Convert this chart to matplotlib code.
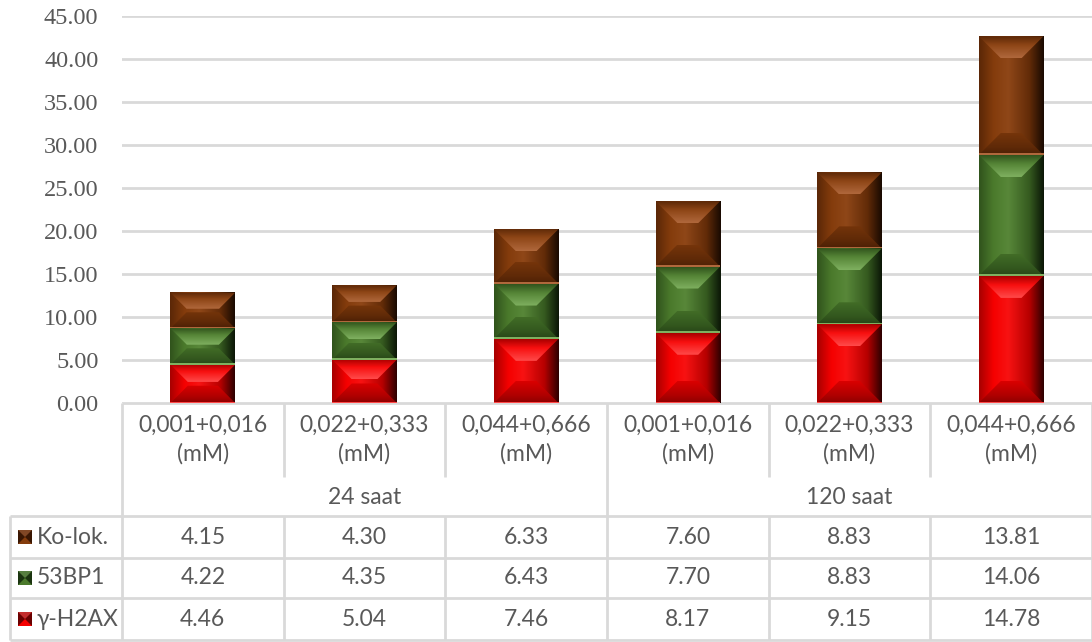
import numpy as np
import matplotlib.pyplot as plt
from matplotlib.patches import Polygon, Rectangle
from matplotlib.colors import to_rgb

plt.rcParams["font.family"] = "serif"
plt.rcParams["font.serif"] = ["Liberation Serif", "DejaVu Serif"]

# donnees
categories = ["0,001+0,016\n(mM)", "0,022+0,333\n(mM)", "0,044+0,666\n(mM)",
              "0,001+0,016\n(mM)", "0,022+0,333\n(mM)", "0,044+0,666\n(mM)"]
groupes = ["24 saat", "120 saat"]
h2ax = [4.46, 5.04, 7.46, 8.17, 9.15, 14.78]
bp53 = [4.22, 4.35, 6.43, 7.70, 8.83, 14.06]
kolok = [4.15, 4.30, 6.33, 7.60, 8.83, 13.81]
yticks = [0, 5, 10, 15, 20, 25, 30, 35, 40, 45]

series = [("γ-H2AX", h2ax, "#f50000", "#6a0000", "#ff4a4a"),
          ("53BP1", bp53, "#4b7a2c", "#1b3410", "#7fb060"),
          ("Ko-lok.", kolok, "#843c0c", "#3a1703", "#b0683c")]

W, H = 1092, 642
GRIS = "#595959"
LIGNE = "#d9d9d9"
TABLE_FONT = ["Lato", "Open Sans", "DejaVu Sans"]

fig = plt.figure(figsize=(W / 100, H / 100), dpi=100)
ax_l, ax_r, ax_t, ax_b = 122, 1092, 16, 403
ax = fig.add_axes([ax_l / W, 1 - ax_b / H, (ax_r - ax_l) / W, (ax_b - ax_t) / H])
XLIM = (-0.5, len(categories) - 0.5)
YLIM = (0, 45)
dx_px = (XLIM[1] - XLIM[0]) / (ax_r - ax_l)   # unite x par pixel
dy_px = (YLIM[1] - YLIM[0]) / (ax_b - ax_t)   # unite y par pixel


def mix(c1, c2, t):
    a, b = np.array(to_rgb(c1)), np.array(to_rgb(c2))
    return tuple(a * (1 - t) + b * t)


def degrade(ax, pos, cols, extent, vertical=False, clip=None):
    cols = np.array([to_rgb(c) for c in cols])
    t = np.linspace(0, 1, 64)
    g = np.stack([np.interp(t, pos, cols[:, k]) for k in range(3)], axis=-1)
    img = g[:, None, :] if vertical else g[None, :, :]
    im = ax.imshow(img, extent=extent, aspect="auto", interpolation="bilinear",
                   origin="lower", zorder=3)
    if clip is not None:
        im.set_clip_path(clip)


def biseau(ax, p, base, dark, light):
    """effet 'biseau' facon Excel sur un rectangle de barre"""
    x0, y0 = p.get_x(), p.get_y()
    x1, y1 = x0 + p.get_width(), y0 + p.get_height()
    w_px = p.get_width() / dx_px
    h_px = p.get_height() / dy_px
    # degrade horizontal (facettes laterales + centre)
    degrade(ax, [0, 0.22, 0.45, 0.78, 1],
            [mix(base, dark, 0.55), base, mix(base, light, 0.25), mix(base, dark, 0.45), mix(dark, "black", 0.55)],
            [x0, x1, y0, y1])
    d = min(22, h_px * 0.45, w_px / 2 - 6)
    ddx, ddy = d * dx_px, d * dy_px
    # facette haute
    haut = Polygon([(x0, y1), (x1, y1), (x1 - ddx, y1 - ddy), (x0 + ddx, y1 - ddy)],
                   closed=True, transform=ax.transData)
    degrade(ax, [0, 0.6, 1], [light, mix(base, light, 0.2), mix(base, dark, 0.55)],
            [x0, x1, y1 - ddy, y1], vertical=True, clip=haut)
    # facette basse
    bas_p = Polygon([(x0, y0), (x1, y0), (x1 - ddx, y0 + ddy), (x0 + ddx, y0 + ddy)],
                    closed=True, transform=ax.transData)
    degrade(ax, [0, 0.35, 1], [mix(base, dark, 0.75), mix(base, dark, 0.5), mix(base, dark, 0.2)],
            [x0, x1, y0, y0 + ddy], vertical=True, clip=bas_p)
    # filet clair en bas du segment
    ax.add_patch(Rectangle((x0, y0), x1 - x0, 1.5 * dy_px, fc=light, ec="none", zorder=4))


x = np.arange(len(categories))
bas = np.zeros(len(categories))
for nom, vals, base, dark, light in series:
    barres = ax.bar(x, vals, width=0.4, bottom=bas, color=base, zorder=2)
    for p in barres:
        biseau(ax, p, base, dark, light)
    bas = bas + np.array(vals)

ax.set_xlim(*XLIM)
ax.set_ylim(*YLIM)
ax.set_yticks(yticks)
ax.set_yticklabels([f"{v:.2f}" for v in yticks])
ax.tick_params(axis="y", length=0, pad=17, labelsize=17.5, labelcolor=GRIS)
ax.set_xticks([])
ax.yaxis.grid(True, color=LIGNE, lw=2)
ax.set_axisbelow(True)
for s in ax.spines.values():
    s.set_visible(False)

# tableau de donnees (axes en pixels)
tab = fig.add_axes([0, 0, 1, 1], zorder=-1)
tab.set_xlim(0, W)
tab.set_ylim(H, 0)
tab.axis("off")
fig.canvas.draw()
bords = [ax.transData.transform((i - 0.5, 0))[0] for i in range(len(categories) + 1)]
centres = [(bords[i] + bords[i + 1]) / 2 for i in range(len(categories))]

y_cat, y_grp, y_lignes, y_fin = 403, 477, [516, 558, 598], 640
kw = dict(color=LIGNE, lw=2, solid_capstyle="butt")
tab.plot([bords[0], W], [y_cat, y_cat], **kw)
for y in y_lignes + [y_fin]:
    tab.plot([10, W], [y, y], **kw)
tab.plot([10, 10], [y_lignes[0], y_fin], **kw)
for i, b in enumerate(bords):
    if i % 3 == 0:
        tab.plot([b, b], [y_cat, y_fin], **kw)
    else:
        tab.plot([b, b], [y_cat, y_grp], **kw)
        tab.plot([b, b], [y_lignes[0], y_fin], **kw)

for c, lab in zip(centres, categories):
    tab.text(c, 440, lab, ha="center", va="center", fontsize=16.5, color=GRIS,
             family=TABLE_FONT, linespacing=1.4)
for g, nom in enumerate(groupes):
    tab.text((bords[3 * g] + bords[3 * g + 3]) / 2, 497, nom, ha="center", va="center",
             fontsize=16.5, color=GRIS, family=TABLE_FONT)

rows = series[::-1]
y_centres = [(y_lignes[0] + y_lignes[1]) / 2, (y_lignes[1] + y_lignes[2]) / 2, (y_lignes[2] + y_fin) / 2]
for (nom, vals, base, dark, light), yc in zip(rows, y_centres):
    tab.add_patch(Rectangle((18, yc - 7), 14, 14, fc=dark, ec="none"))
    tab.add_patch(Polygon([(18, yc - 7), (32, yc - 7), (25, yc)], closed=True, fc=light, ec="none", alpha=0.6))
    tab.add_patch(Polygon([(18, yc + 7), (32, yc + 7), (25, yc)], closed=True, fc=base, ec="none"))
    tab.text(37, yc, nom, ha="left", va="center", fontsize=16.5, color=GRIS, family=TABLE_FONT)
    for c, v in zip(centres, vals):
        tab.text(c, yc, f"{v:.2f}", ha="center", va="center", fontsize=16.5, color=GRIS, family=TABLE_FONT)

fig.savefig("out.png", dpi=100)
